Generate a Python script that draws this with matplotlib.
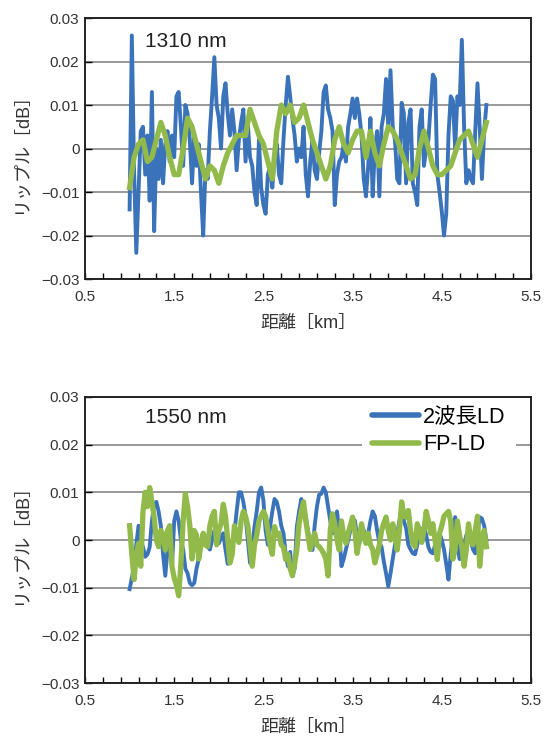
import numpy as np
import matplotlib
matplotlib.use("Agg")
import matplotlib.pyplot as plt
from matplotlib.ticker import FixedLocator, FuncFormatter, MultipleLocator

plt.rcParams['font.family'] = ['Liberation Sans', 'Noto Sans CJK JP', 'DejaVu Sans']

# ripple values in units of 0.001 dB, sampled evenly from 1.0 to 5.0 km
ripple_1310_dual = [
    -14, 26, -5, -24, -10, 4, 5, -6, 3, -12,
    13, -19, 0, -7, 2, -8, 1, 4, -3, 3,
    -2, 12, 13, 5, -4, 10, 8, 2, -8, 3,
    -4, 1, -10, -20, -5, -7, 4, 12, 21, 10,
    7, 0, 12, 15, 8, 3, 9, 4, -5, 2,
    6, 9, -3, 6, -2, -4, -10, -13, 2, -9,
    -13, -15, -6, -4, -9, -2, 1, -6, -8, 2,
    10, 16.5, 12, 7, 3, -3, 0, -2, 5, -6,
    -11, -3, 2, -5, -7, -1, 4, 13, 14.5, 9,
    7, 4, -13, -6, -3, -2, 1, -3, 5, 8,
    11.5, 7, 11.5, 8, 3, -7, -11, -4, 7, -11,
    0, 4, -11, 5, 8, 16, 5, 18, 5, 2,
    -7, -8, 10.5, 8, -8, 6, 9, -8, -10, -13,
    5, 9, -4, 0, 2, 10, 17, 16, -6, -10,
    -14.5, -20, -15, 3, 12, 11, 0, 12, 10, 25,
    5, -8, -5, -7, -8, 4, 15, 5, -7, 4,
    10,
]
ripple_1310_fp = [
    -9, -2, 1, 2, -3, -2, 2, 6, 3, -2,
    -6, -6, 0, 7, 5, 1, -3, -7, -4, -5,
    -8, -4, -1, 1, 3, 3, 3, 9, 6, 3,
    1, -3, -7, 4, 10, 8, 10, 6, 7, 10,
    6, 2, -1, -4, -7, -4, 2, 5, 1, -1,
    2, 4, 4, -2, 4, -1, -4, 1, 5, 4,
    2, -1, -4, -7, -6, 0, 4, 0, -4, -6,
    -6, -5, -4, -1, 2, 3, 4, 1, -2, 2,
    6,
]
ripple_1550_dual = [
    -10.3, -8, -5.5, -1, 3, 0, -1.5, -3.5, -3, -1.5,
    4, 7.5, 8, 6, 3, -3, -7.5, -2, -1, -5.5,
    4, 6, 4, 0, -2, -6, -7, -9, -9.5, -9,
    -6, -4, -1, 1.4, 0, -1.4, -2, 0, 2, 0,
    -0.7, 0.5, 1.4, -2, -5, -4, -1, 1.5, 6, 10,
    10, 8, 5, 0, -4.8, -2, 2.8, 6, 10, 11,
    8.3, 2, -1, 2.8, 6, 8.6, 8, 6, 3, 1.4,
    -3, -5.5, -2.5, -7.5, -6, 2.8, 6, 8.6, 7, 5,
    2, -1, -2.1, 3, 7, 9.5, 9.7, 11, 10, 7,
    4, 1.4, 3, 6, 2, -5.5, -4, -2, 0, 2,
    3, 4.1, 1, -0.7, 1, 2.1, 0, 1.4, 4, 6,
    5, 2, -0.5, -1.5, -4.5, -7, -9.7, -7, -4, -1,
    1.4, 4, 6.2, 4, 2.5, -1, -2, -2.8, -3, -1,
    1.4, 2, 2.8, 1, -1.5, -2.5, -2.8, -1, 0.5, 1.4,
    0, -2, -5, -8.3, -3, 1, 4.8, -1, -4, -2,
    -1, 1, 2, 0, -2, -2.8, 1, 4.8, 4.5, 3,
    0,
]
ripple_1550_fp = [
    3, -3, -8.3, -3, -0.7, -5.5, 6, 10, 7, 11,
    8, 4.8, 0, -1.4, 2, 1, -2.1, 2, 3, -5.5,
    -8, -9.5, -11.7, -5, 4, 9.7, 7, 3, -4, 2,
    1, -4, -1, 1.4, -1, -1.4, 3, 5, 6, -1,
    2, 3.4, 7.5, 5, 0, -4.8, -3, 3, 1, -0.5,
    4, 6, 5, 3, -1, -5.5, -1, 1, 4, 5,
    6, 5, 2, -1, -3, 2.8, 1, 1.4, -1, -1.5,
    -4.1, -3, -6, -7.5, -5, -2, 3.4, 6, 8, 4,
    1, -2, 0, 1.4, -1, -1.4, -2, -2.8, -4, -7.5,
    2, 5.5, 3.4, 0, -2.1, 4, 1, -0.7, 1.4, 3,
    4.8, 2, -2.8, 0, 3.4, 1, -0.7, 1.4, -1, -2,
    -4.8, -3, -1, 2, 3.5, 4.8, 2, 0, 3.4, 1,
    -2.1, 2, 8, 5, 4.8, 6.2, 2, -0.7, -1.4, 3.4,
    2, -0.5, 2, 6, 4, 1.4, 3.4, 0, -4.1, 1.4,
    3, 5, 5.5, 6, 4, -4, -2, 4, 1, -1.4,
    -5.5, -2, 3.4, 0, -1, 2, 5, -5.5, 0, 2,
    -1.4,
]

dist_start, dist_end = 1.0, 5.0
wavelengths = ['1310 nm', '1550 nm']
series_labels = ['2波長LD', 'FP-LD']
xtick_labels = [0.5, 1.5, 2.5, 3.5, 4.5, 5.5]

BLUE = '#3b73bb'
GREEN = '#91ba4a'


def ytick_fmt(v, pos):
    if abs(v) < 1e-9:
        return '0'
    return f'{v:.2f}'.replace('-', '\u2212')


def style_axes(ax):
    ax.set_xlim(0.5, 5.5)
    ax.set_ylim(-0.03, 0.03)
    ax.xaxis.set_major_locator(FixedLocator(xtick_labels))
    ax.xaxis.set_minor_locator(FixedLocator(np.arange(0.5, 5.51, 0.2)))
    ax.yaxis.set_major_locator(MultipleLocator(0.01))
    ax.yaxis.set_major_formatter(FuncFormatter(ytick_fmt))
    ax.xaxis.set_major_formatter(FuncFormatter(lambda v, p: f'{v:.1f}'))
    ax.tick_params(axis='x', which='both', direction='in', length=4,
                   width=1.0, top=False, labelsize=11, pad=8,
                   labelcolor='#333333')
    ax.tick_params(axis='y', which='both', direction='in', length=5,
                   width=1.0, right=False, labelsize=11, pad=4,
                   labelcolor='#333333')
    ax.grid(axis='y', color='#999999', linewidth=1.4)
    ax.set_axisbelow(True)
    for sp in ax.spines.values():
        sp.set_color('#222222')
        sp.set_linewidth(1.4)
    ax.set_xlabel('距離［km］', fontsize=13, labelpad=8, color='#333333')
    ax.set_ylabel('リップル［dB］', fontsize=13, labelpad=8, color='#333333')


fig = plt.figure(figsize=(5.46, 7.36), dpi=100)
ax1 = fig.add_axes([0.1557, 0.6209, 0.8168, 0.3546])
ax2 = fig.add_axes([0.1557, 0.0720, 0.8168, 0.3886])

panels = [
    (ax1, ripple_1310_dual, ripple_1310_fp),
    (ax2, ripple_1550_dual, ripple_1550_fp),
]
for (ax, dual, fp), wl in zip(panels, wavelengths):
    dual = np.array(dual) * 1e-3
    fp = np.array(fp) * 1e-3
    x_dual = np.linspace(dist_start, dist_end, len(dual))
    x_fp = np.linspace(dist_start, dist_end, len(fp))
    ax.plot(x_dual, dual, color=BLUE, linewidth=2.8, label=series_labels[0],
            solid_joinstyle='round')
    ax.plot(x_fp, fp, color=GREEN, linewidth=3.8, label=series_labels[1],
            solid_joinstyle='round')
    style_axes(ax)
    ax.text(0.135, 0.91 if ax is ax1 else 0.927, wl, transform=ax.transAxes,
            fontsize=15, va='center', ha='left', color='#222222')

leg = ax2.legend(loc='upper left', bbox_to_anchor=(0.621, 1.0),
                 fontsize=15.5, frameon=True, handlelength=2.2,
                 labelspacing=0.3, handletextpad=0.2, borderpad=0.45,
                 borderaxespad=0.0, fancybox=False)
leg.get_frame().set_facecolor('white')
leg.get_frame().set_edgecolor('none')
leg.get_frame().set_alpha(1.0)
leg.set_zorder(2.3)  # hide the grid line but keep the frame spines on top
for line in leg.get_lines():
    line.set_linewidth(4)
    line.set_solid_capstyle('round')

fig.savefig('out.png', dpi=100)
